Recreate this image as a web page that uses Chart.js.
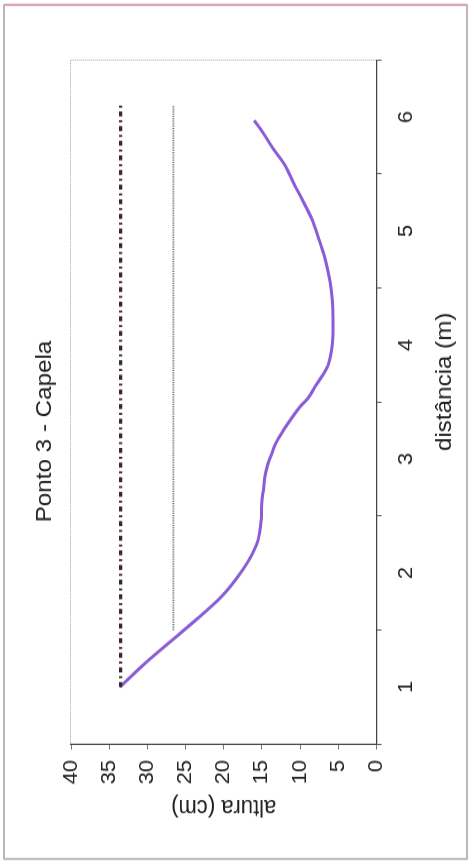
<!DOCTYPE html>
<html>
<head>
<meta charset="utf-8">
<script src="https://cdn.jsdelivr.net/npm/chart.js@4/dist/chart.umd.min.js"></script>
<style>
  html, body { margin: 0; padding: 0; background: #fff; }
  body { width: 469px; height: 866px; overflow: hidden; position: relative; }
  /* chart is drawn lying down and turned a quarter to the left, like the scan */
  #wrap {
    position: absolute; left: 0; top: 0;
    width: 787px; height: 469px;
    transform-origin: 0 0;
    transform: translateY(866px) rotate(-90deg) scaleX(1.1);
  }
</style>
</head>
<body>
<div id="wrap"><canvas id="chart" width="787" height="469"></canvas></div>
<script>
/* ====================
   DATA
==================== */
const chartTitle = "Ponto 3 - Capela";
// leading nbsp pushes the axis title off-centre like the original
const xTitle = "\u00a0\u00a0\u00a0\u00a0\u00a0\u00a0distância (m)";
const yTitle = "altura (cm)";
const xLabelValues = [1, 2, 3, 4, 5, 6];

// bottom profile
const profileDist = [1.00, 1.22, 1.42, 1.62, 1.78, 1.91, 2.03, 2.15, 2.29, 2.47, 2.64, 2.73, 2.85, 2.96,
  3.05, 3.15, 3.25, 3.36, 3.46, 3.54, 3.66, 3.74, 3.83, 3.95, 4.10, 4.24, 4.40, 4.56, 4.76,
  4.94, 5.11, 5.26, 5.40, 5.58, 5.72, 5.86, 5.97];
const profileHeight = [33.6, 30.1, 26.6, 23.1, 20.5, 18.8, 17.5, 16.4, 15.5, 15.1, 15.0, 14.8, 14.6, 14.2,
  13.7, 13.1, 12.2, 11.1, 10.0, 8.9, 7.8, 7.0, 6.3, 5.9, 5.7, 5.7, 5.8, 6.1, 6.75,
  7.6, 8.5, 9.6, 10.7, 12.0, 13.5, 14.85, 16.0];

// water levels
const dashLevelDist = [1.0, 6.1];
const dashLevelHeight = [33.5, 33.5];
const dotLevelDist = [1.5, 6.1];
const dotLevelHeight = [26.6, 26.6];

const toPoints = (xs, ys) => xs.map((x, i) => ({ x, y: ys[i] }));

const FONT = "'Liberation Sans', Arial, sans-serif";
const TEXT = "#222";

/* ====================
   FRAME PLUGIN
==================== */
const framePlugin = {
  id: "frame",
  beforeDraw(chart) {
    const { ctx, width, height } = chart;
    ctx.save();
    ctx.fillStyle = "#fff";
    ctx.fillRect(0, 0, width, height);
    ctx.strokeStyle = "#a8a0a4";
    ctx.lineWidth = 1.5;
    ctx.strokeRect(6.4, 4, 776.3, 463);
    ctx.strokeStyle = "#d9909a";
    ctx.beginPath();
    ctx.moveTo(782.7, 4);
    ctx.lineTo(782.7, 467);
    ctx.stroke();
    ctx.restore();
  },
  afterDraw(chart) {
    const { ctx, chartArea: a } = chart;
    ctx.save();
    ctx.strokeStyle = "#a0a0a0";
    ctx.lineWidth = 1;
    ctx.setLineDash([1, 1]);
    ctx.beginPath();
    ctx.moveTo(a.left, a.top - 0.5);
    ctx.lineTo(a.right, a.top - 0.5);
    ctx.lineTo(a.right, a.bottom);
    ctx.stroke();
    ctx.restore();
  }
};

/* ====================
   CHART
==================== */
new Chart(document.getElementById("chart"), {
  type: "scatter",
  data: {
    datasets: [
      {
        data: toPoints(dashLevelDist, dashLevelHeight),
        showLine: true,
        borderColor: "#3a2628",
        borderWidth: 3.2,
        borderDash: [4.5, 3.5, 1.8, 3.5],
        pointRadius: 0
      },
      {
        data: toPoints(dotLevelDist, dotLevelHeight),
        showLine: true,
        borderColor: "#555",
        borderWidth: 1.6,
        borderDash: [1, 1.2],
        pointRadius: 0
      },
      {
        data: toPoints(profileDist, profileHeight),
        showLine: true,
        borderColor: "#8a5cd6",
        borderWidth: 3,
        tension: 0.3,
        pointRadius: 0
      }
    ]
  },
  options: {
    responsive: false,
    animation: false,
    layout: { padding: { left: 57.3, right: 54.3, top: 0, bottom: 0 } },
    plugins: {
      legend: { display: false },
      tooltip: { enabled: false },
      title: {
        display: true,
        text: chartTitle,
        color: TEXT,
        font: { family: FONT, size: 22, weight: "normal" },
        padding: { top: 31.8, bottom: 12.8 }
      }
    },
    scales: {
      x: {
        type: "linear",
        min: 0.5,
        max: 6.5,
        afterFit: s => { s.height = 92.5; },
        border: { color: "#444", width: 1.2 },
        grid: {
          drawOnChartArea: false,
          tickLength: 5,
          tickColor: c => (Number.isInteger(c.tick.value) ? "rgba(0,0,0,0)" : "#555")
        },
        ticks: {
          stepSize: 0.5,
          autoSkip: false,
          maxRotation: 0,
          minRotation: 0,
          padding: 12.5,
          color: TEXT,
          font: { family: FONT, size: 20 },
          callback: v => (xLabelValues.includes(v) ? String(v) : "")
        },
        title: {
          display: true,
          text: xTitle,
          color: TEXT,
          font: { family: FONT, size: 22 },
          padding: { top: 0, bottom: 10.8 }
        }
      },
      y: {
        min: 0,
        max: 40,
        afterFit: s => { s.width = 53.6; },
        border: { color: "#444", width: 1.2 },
        grid: { drawOnChartArea: false, tickLength: 5, tickColor: "#777" },
        ticks: {
          stepSize: 5,
          padding: 9.5,
          color: TEXT,
          font: { family: FONT, size: 20 }
        },
        title: {
          display: true,
          text: yTitle,
          color: TEXT,
          font: { family: FONT, size: 22 },
          padding: { top: -16.9, bottom: 0 }
        }
      }
    }
  },
  plugins: [framePlugin]
});
</script>
</body>
</html>
